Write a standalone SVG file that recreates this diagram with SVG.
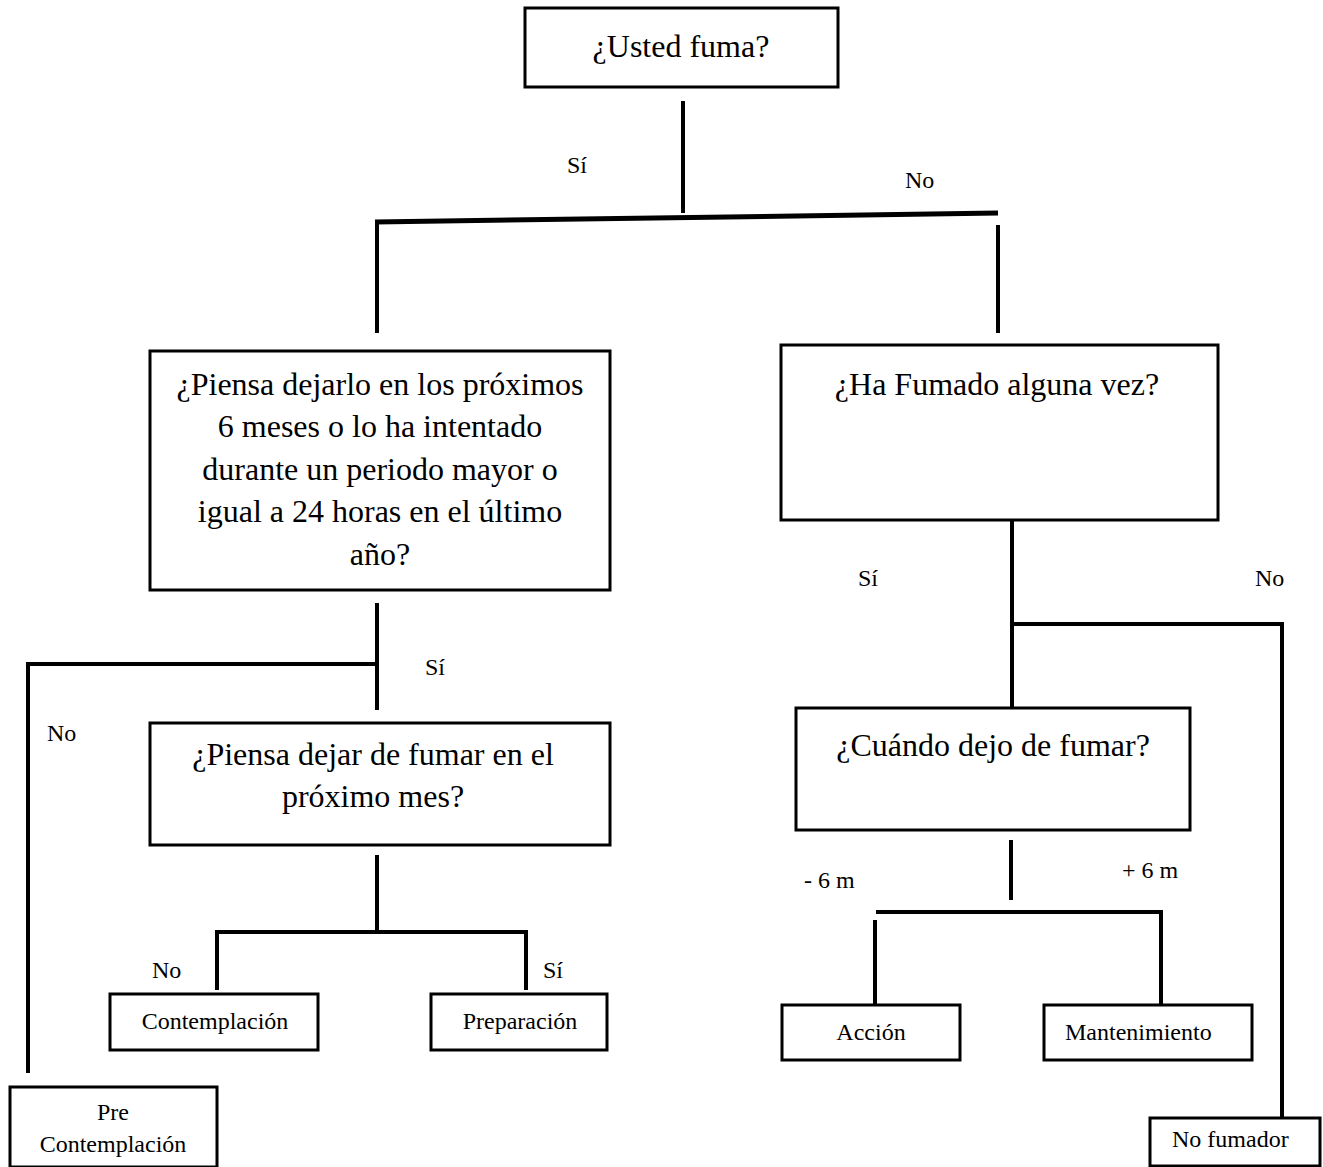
<svg xmlns="http://www.w3.org/2000/svg" width="1323" height="1167" viewBox="0 0 1323 1167">
<style>
.box{fill:#fff;stroke:#000;stroke-width:3}
.ln{stroke:#000;stroke-width:4;fill:none;stroke-linecap:butt}
.big{font-family:"Liberation Serif","Times New Roman",serif;font-size:32px;fill:#000;text-anchor:middle}
.sm{font-family:"Liberation Serif","Times New Roman",serif;font-size:24px;fill:#000}
.c{text-anchor:middle}
</style>
<rect width="1323" height="1167" fill="#fff"/>
<g id="connectors">
<line class="ln" x1="683" y1="101" x2="683" y2="213"/>
<line class="ln" x1="375" y1="222" x2="998" y2="213" style="stroke-width:5"/>
<line class="ln" x1="377" y1="220" x2="377" y2="333"/>
<line class="ln" x1="998" y1="225" x2="998" y2="333"/>
<line class="ln" x1="377" y1="603" x2="377" y2="710"/>
<polyline class="ln" points="377,664 28,664 28,1073"/>
<line class="ln" x1="377" y1="855" x2="377" y2="932"/>
<polyline class="ln" points="217,990 217,932 526,932 526,990"/>
<line class="ln" x1="1012" y1="520" x2="1012" y2="708"/>
<polyline class="ln" points="1012,624 1282,624 1282,1118"/>
<line class="ln" x1="1011" y1="840" x2="1011" y2="900"/>
<polyline class="ln" points="876,912 1161,912 1161,1005"/>
<line class="ln" x1="875" y1="920" x2="875" y2="1015"/>
<text class="sm" x="567" y="173">Sí</text>
<text class="sm" x="905" y="188">No</text>
<text class="sm" x="425" y="675">Sí</text>
<text class="sm" x="47" y="741">No</text>
<text class="sm" x="152" y="978">No</text>
<text class="sm" x="543" y="978">Sí</text>
<text class="sm" x="858" y="586">Sí</text>
<text class="sm" x="1255" y="586">No</text>
<text class="sm" x="804" y="888">- 6 m</text>
<text class="sm" x="1122" y="878">+ 6 m</text>
</g>
<g id="n-fuma">
<rect class="box" x="525" y="8" width="313" height="79"/>
<text class="big" x="681" y="57">¿Usted fuma?</text>
</g>
<g id="n-piensa6">
<rect class="box" x="150" y="351" width="460" height="239"/>
<text class="big" x="380" y="395">¿Piensa dejarlo en los próximos</text>
<text class="big" x="380" y="437">6 meses o lo ha intentado</text>
<text class="big" x="380" y="480">durante un periodo mayor o</text>
<text class="big" x="380" y="522">igual a 24 horas en el último</text>
<text class="big" x="380" y="565">año?</text>
</g>
<g id="n-hafumado">
<rect class="box" x="781" y="345" width="437" height="175"/>
<text class="big" x="997" y="395">¿Ha Fumado alguna vez?</text>
</g>
<g id="n-piensames">
<rect class="box" x="150" y="723" width="460" height="122"/>
<text class="big" x="373" y="765">¿Piensa dejar de fumar en el</text>
<text class="big" x="373" y="807">próximo mes?</text>
</g>
<g id="n-cuando">
<rect class="box" x="796" y="708" width="394" height="122"/>
<text class="big" x="993" y="756">¿Cuándo dejo de fumar?</text>
</g>
<g id="n-contemplacion">
<rect class="box" x="110" y="994" width="208" height="56"/>
<text class="sm c" x="215" y="1029">Contemplación</text>
</g>
<g id="n-preparacion">
<rect class="box" x="431" y="994" width="176" height="56"/>
<text class="sm c" x="520" y="1029">Preparación</text>
</g>
<g id="n-precontemplacion">
<rect class="box" x="10" y="1087" width="207" height="80"/>
<text class="sm c" x="113" y="1120">Pre</text>
<text class="sm c" x="113" y="1152">Contemplación</text>
</g>
<g id="n-accion">
<rect class="box" x="782" y="1005" width="178" height="55"/>
<text class="sm c" x="871" y="1040">Acción</text>
</g>
<g id="n-mantenimiento">
<rect class="box" x="1044" y="1005" width="208" height="55"/>
<text class="sm" x="1065" y="1040">Mantenimiento</text>
</g>
<g id="n-nofumador">
<rect class="box" x="1150" y="1118" width="170" height="48"/>
<text class="sm" x="1172" y="1147">No fumador</text>
</g>
</svg>
